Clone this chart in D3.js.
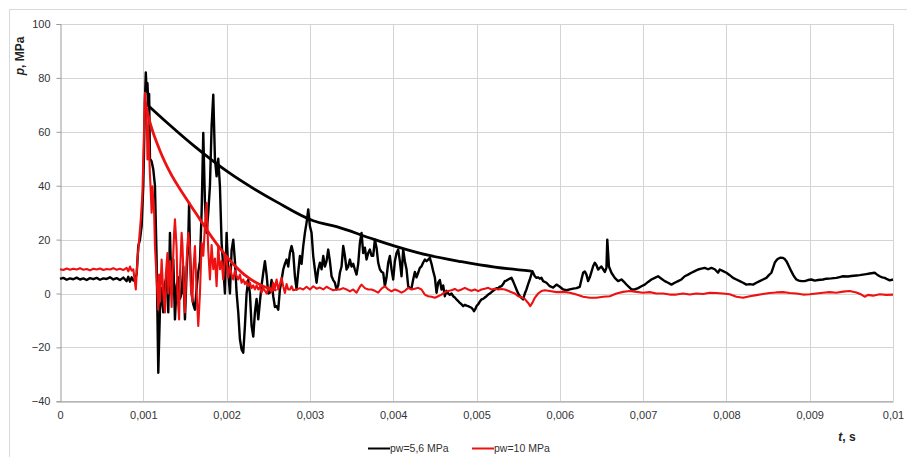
<!DOCTYPE html>
<html>
<head>
<meta charset="utf-8">
<script src="https://cdn.jsdelivr.net/npm/d3@7"></script>
<style>
  html, body { margin: 0; padding: 0; background: #ffffff; }
  svg { display: block; font-family: "Liberation Sans", Arial, sans-serif; }
</style>
</head>
<body>
<svg id="chart" width="907" height="457"></svg>
<script>
// Pressure records p(t); time in milliseconds, pressure in MPa
const seriesNames = ["pw=5,6 MPa", "pw=10 MPa"];
const seriesColors = ["#000000", "#ee1111"];

const blackSignal = [
  [0.00,5.4],[0.04,5.8],[0.08,5.1],[0.12,5.6],[0.16,5.3],[0.20,5.9],[0.24,5.2],[0.28,5.6],[0.32,5.0],[0.36,5.7],
  [0.40,5.3],[0.44,5.8],[0.48,5.1],[0.52,5.6],[0.56,5.4],[0.60,6.0],[0.64,5.2],[0.68,5.7],[0.72,5.0],[0.76,5.9],
  [0.80,4.6],[0.82,6.2],[0.84,4.4],[0.86,6.0],[0.88,4.8],[0.90,5.5],[0.92,7.0],[0.94,17.6],[0.96,20],[0.98,25],
  [1.00,40],[1.01,55],[1.02,72],[1.03,82],[1.04,75],[1.05,78],[1.06,70],[1.07,74],[1.08,50],[1.10,49],
  [1.12,46],[1.14,40],[1.16,12.6],[1.18,-29.4],[1.20,-6],[1.22,2],[1.24,-7],[1.26,4],[1.28,6.4],[1.30,-7],
  [1.32,22.5],[1.34,0],[1.36,12.6],[1.38,-9.6],[1.40,3],[1.42,6],[1.44,-2],[1.46,0],[1.48,10],[1.50,-9.6],
  [1.52,8],[1.54,20],[1.55,33.6],[1.56,16],[1.58,0],[1.60,-4],[1.62,-6],[1.64,2],[1.66,8],[1.68,12],
  [1.70,30],[1.72,59.6],[1.74,34],[1.76,22.5],[1.78,30],[1.80,40],[1.82,62],[1.84,73.8],[1.86,50],[1.88,43.5],
  [1.90,50],[1.92,39.8],[1.94,18.8],[1.96,10],[1.98,0],[2.00,22.5],[2.02,8],[2.04,0],[2.06,16],[2.08,20],
  [2.10,12],[2.12,0.3],[2.14,-7],[2.16,-17],[2.18,-20.8],[2.20,-22],[2.22,-12],[2.24,0],[2.26,5],[2.28,0],
  [2.30,-12],[2.32,-16],[2.34,-7],[2.36,-2],[2.38,-9.6],[2.40,-3],[2.42,3],[2.44,7.7],[2.46,12],[2.48,7],
  [2.50,0],[2.52,0.3],[2.54,5],[2.56,-1],[2.58,-5],[2.60,-4.7],[2.62,-6],[2.64,1.5],[2.66,5],[2.68,8.9],
  [2.70,11],[2.72,12.6],[2.74,10],[2.76,15.1],[2.78,17.6],[2.80,15],[2.82,6.4],[2.84,1.5],[2.86,8],[2.88,13.9],
  [2.90,11],[2.92,17.6],[2.94,22.5],[2.96,26.3],[2.98,31.2],[3.00,25],[3.02,22.5],[3.04,13.9],[3.06,8.9],[3.08,4],
  [3.10,8.9],[3.12,11.4],[3.14,9],[3.16,13.9],[3.18,10],[3.20,12],[3.22,16.3],[3.24,12],[3.26,6.4],[3.28,5],
  [3.30,4],[3.32,1.5],[3.34,3],[3.36,7.7],[3.38,10],[3.40,17.6],[3.42,14],[3.44,8.9],[3.46,10],[3.48,12.6],
  [3.50,10],[3.52,11],[3.54,8.9],[3.56,7],[3.58,11],[3.60,18.8],[3.62,22.5],[3.64,15],[3.66,17],[3.68,12.6],
  [3.70,15],[3.72,16.3],[3.74,14],[3.76,14],[3.78,20],[3.80,17],[3.82,11.4],[3.84,9],[3.86,8],[3.88,7.7],
  [3.90,2.7],[3.92,6],[3.94,11.4],[3.96,13.9],[3.98,9],[4.00,5.2],[4.02,12],[4.04,15],[4.06,16.3],[4.08,12],
  [4.10,6.4],[4.12,16.3],[4.14,12],[4.16,9],[4.18,2.7],[4.20,2],[4.22,2],[4.24,5.2],[4.26,8],[4.28,6],
  [4.30,7.7],[4.32,9.5],[4.34,10.1],[4.36,11.5],[4.38,12.6],[4.40,12],[4.42,12.6],[4.44,13.2],[4.46,11],[4.48,8.3],
  [4.50,6],[4.52,0.3],[4.54,4],[4.56,5],[4.58,1.5],[4.60,3],[4.62,-1],[4.64,1],[4.66,0],[4.68,-0.5],
  [4.70,0],[4.72,-1],[4.74,-1.5],[4.76,-2.2],[4.78,-2.8],[4.80,-3.5],[4.82,-4],[4.84,-4.7],[4.86,-4.2],[4.88,-4.5],
  [4.90,-4.7],[4.92,-5],[4.94,-5.3],[4.96,-6],[4.97,-6.6],[4.99,-5.5],[5.00,-4.7],[5.02,-4],[5.04,-3],[5.06,-2.2],
  [5.08,-2],[5.10,-1.5],[5.12,-1],[5.14,-0.4],[5.16,0],[5.18,0.5],[5.20,1],[5.22,1.5],[5.24,2],[5.26,2],
  [5.28,2.5],[5.30,2.7],[5.32,3.5],[5.34,4.6],[5.36,4.8],[5.38,5.2],[5.40,5.5],[5.42,5.8],[5.44,4.5],[5.46,3],
  [5.48,1.5],[5.50,0],[5.52,-1],[5.54,-1.6],[5.56,-2.2],[5.58,0],[5.60,1.5],[5.62,3.5],[5.64,5.2],[5.67,8.3],
  [5.70,6.4],[5.72,5.8],[5.74,6],[5.76,5.5],[5.78,5.8],[5.80,4.6],[5.84,4],[5.88,2.7],[5.92,2.2],[5.96,3.3],
  [6.00,2.5],[6.04,1.5],[6.08,1.2],[6.12,1.5],[6.16,1.8],[6.20,2],[6.24,2.5],[6.26,5.2],[6.28,7.7],[6.30,8.2],
  [6.32,7],[6.34,4.6],[6.36,6],[6.38,8],[6.40,10.1],[6.42,11.4],[6.44,10.5],[6.46,8.9],[6.48,9.5],[6.50,10],
  [6.52,9],[6.54,8],[6.56,9.5],[6.57,20],[6.59,10],[6.62,7.7],[6.66,5.8],[6.70,4.6],[6.74,5.2],[6.78,4],
  [6.82,2.7],[6.86,1.5],[6.90,1.5],[6.94,2],[6.98,2.7],[7.02,3.3],[7.06,4.3],[7.10,5.2],[7.14,5.8],[7.18,6.4],
  [7.22,5.5],[7.26,4.6],[7.30,4],[7.34,3.3],[7.38,4],[7.42,4.6],[7.46,5.2],[7.50,6.4],[7.54,7],[7.58,7.7],
  [7.62,8.3],[7.66,8.9],[7.70,9.2],[7.74,9.5],[7.78,9],[7.82,9.5],[7.86,9],[7.90,7.7],[7.92,8.9],[7.96,8.3],
  [8.00,7.7],[8.04,6.8],[8.08,5.8],[8.12,5.2],[8.16,4.6],[8.20,4],[8.24,3.3],[8.28,3.5],[8.32,3.3],[8.36,4],
  [8.40,4.6],[8.44,5.2],[8.48,5.8],[8.51,6.8],[8.54,7.7],[8.56,9.5],[8.58,11.4],[8.60,12.3],[8.62,12.9],[8.65,13.3],
  [8.68,13.2],[8.70,12.8],[8.72,12],[8.74,10.8],[8.76,9.5],[8.78,8.2],[8.80,7],[8.82,6],[8.84,5.2],[8.87,4.8],
  [8.90,4.6],[8.94,4.6],[8.98,5],[9.02,5.2],[9.06,4.8],[9.10,5],[9.16,5.2],[9.20,5.5],[9.26,5.6],[9.32,5.8],
  [9.36,6.1],[9.40,6.4],[9.46,6.3],[9.50,6.5],[9.56,6.7],[9.60,6.8],[9.64,7],[9.68,7.2],[9.72,7.4],[9.76,7.6],
  [9.78,7.7],[9.81,7],[9.84,6.4],[9.87,6],[9.90,5.8],[9.93,5.3],[9.96,4.9],[10.0,5.2]
];

const redSignal = [
  [0.00,9.0],[0.04,8.7],[0.08,9.3],[0.12,8.8],[0.16,9.2],[0.20,8.9],[0.24,9.4],[0.28,8.8],[0.32,9.1],[0.36,8.6],
  [0.40,9.2],[0.44,8.9],[0.48,9.3],[0.52,8.7],[0.56,9.1],[0.60,8.9],[0.64,9.4],[0.68,8.8],[0.72,9.2],[0.76,8.7],
  [0.80,9.5],[0.82,8.2],[0.84,10],[0.86,8.5],[0.88,9],[0.90,4],[0.91,1.5],[0.93,12.6],[0.95,20],[0.97,27.5],
  [0.99,37.4],[1.01,62],[1.02,74.5],[1.04,68],[1.05,49.7],[1.06,62],[1.08,44],[1.09,37.4],[1.10,30],[1.11,39.8],
  [1.13,30],[1.14,17.6],[1.16,5.2],[1.18,-6],[1.19,7],[1.20,-3],[1.22,12.6],[1.24,0],[1.26,-7],[1.27,7],
  [1.29,15],[1.30,0],[1.32,12],[1.34,-5],[1.35,7],[1.37,22.5],[1.38,27.5],[1.40,17],[1.41,0],[1.43,-9.6],
  [1.44,7],[1.46,22.5],[1.47,18],[1.49,0],[1.50,-7],[1.52,12],[1.54,22.5],[1.56,17],[1.57,3],[1.59,-3],
  [1.60,8],[1.62,17.6],[1.64,0.3],[1.66,-12],[1.68,0],[1.70,18.8],[1.72,14],[1.74,25],[1.76,33.6],[1.78,16],
  [1.80,5.2],[1.82,18],[1.84,9],[1.86,13],[1.88,2.7],[1.90,17.6],[1.92,9],[1.94,12],[1.96,5.2],[1.98,14],
  [2.00,12.6],[2.02,6],[2.04,10],[2.06,7],[2.08,5.2],[2.10,8.5],[2.12,6.5],[2.14,5.2],[2.16,7],[2.18,4],
  [2.20,5.2],[2.22,3.5],[2.24,4.5],[2.26,2.7],[2.28,4],[2.30,2],[2.32,3],[2.34,1.5],[2.36,3],[2.38,1.5],
  [2.40,2.5],[2.42,0.3],[2.44,2],[2.46,1],[2.48,0],[2.50,1.5],[2.52,1.5],[2.54,0.5],[2.56,4],[2.58,2],
  [2.60,5.2],[2.62,1.5],[2.64,3.5],[2.66,5.8],[2.68,2.7],[2.70,0.2],[2.72,3.5],[2.74,1.5],[2.76,1.5],[2.78,2.7],
  [2.80,1.2],[2.84,1.5],[2.88,2],[2.92,1.5],[2.96,2.5],[3.00,1.5],[3.04,2.7],[3.08,1.8],[3.12,2.2],[3.16,1.5],
  [3.20,2.5],[3.24,1.8],[3.28,1.2],[3.32,1.5],[3.36,1.5],[3.40,2],[3.44,1.5],[3.48,0.8],[3.52,1.5],[3.56,0.3],
  [3.60,2.5],[3.62,3.3],[3.66,2],[3.70,1.5],[3.74,1.5],[3.78,1],[3.82,0.3],[3.86,1.8],[3.90,2.7],[3.94,1.5],
  [3.98,0.8],[4.02,1.5],[4.06,1],[4.10,0.3],[4.14,1],[4.18,2.1],[4.22,1.5],[4.26,1.8],[4.30,2.1],[4.34,1.5],
  [4.38,-0.4],[4.42,-1],[4.46,-1.2],[4.50,-1.6],[4.54,-1],[4.58,-0.4],[4.62,0.5],[4.66,0.9],[4.70,1.2],[4.74,1.7],
  [4.78,1],[4.82,1.5],[4.86,2.1],[4.90,1.5],[4.94,1],[4.98,1.5],[5.02,0.9],[5.06,1.5],[5.10,1.8],[5.14,2.1],
  [5.18,1.5],[5.22,1.8],[5.26,1.5],[5.30,1.7],[5.34,1.5],[5.38,1],[5.42,0.5],[5.46,0],[5.50,-1],[5.54,-1.4],
  [5.58,-2],[5.60,-2.8],[5.62,-3.5],[5.645,-4.7],[5.67,-3.5],[5.70,-1.6],[5.74,0],[5.78,0.9],[5.82,1.2],[5.88,0.9],
  [5.96,0.5],[6.04,0.6],[6.12,0.3],[6.20,-0.4],[6.28,-1.2],[6.36,-1.6],[6.44,-1.6],[6.52,-1.2],[6.60,-1],[6.68,0],
  [6.76,0.6],[6.84,0.9],[6.92,0.6],[7.00,0.3],[7.08,0.5],[7.16,0],[7.24,0],[7.32,-0.4],[7.40,-0.4],[7.48,0],
  [7.56,-0.4],[7.64,0],[7.72,-0.2],[7.80,0.3],[7.88,0.2],[7.96,0],[8.04,-0.3],[8.12,-1.2],[8.20,-1.6],[8.28,-1],
  [8.36,-0.6],[8.44,-0.2],[8.52,0.2],[8.60,0.4],[8.68,0.5],[8.76,0.2],[8.84,0],[8.92,-0.4],[9.00,-0.3],[9.08,0],
  [9.16,0.3],[9.24,0.5],[9.32,0.3],[9.40,0.7],[9.48,0.9],[9.56,0.4],[9.62,-0.4],[9.66,-1.2],[9.70,-0.5],[9.76,-0.8],
  [9.84,-0.3],[9.92,-0.5],[10.0,-0.4]
];

// Peak-pressure decay envelopes
const blackEnvelope = [
  [1.05,70],[1.3,63],[1.62,54.5],[2.02,45],[2.6,34],[3.04,27],[3.32,24.8],[3.72,20.6],
  [4.02,17.6],[4.42,14.2],[4.82,11.8],[5.22,9.8],[5.66,8.3]
];
const redEnvelope = [
  [1.02,71],[1.08,63.5],[1.2,53],[1.32,45],[1.52,35],[1.68,27.5],[1.82,21],[2.02,13],
  [2.22,6.8],[2.42,3],[2.6,1.2]
];

const xTickValues = [0, 1, 2, 3, 4, 5, 6, 7, 8, 9, 10];
const xTickLabels = ["0", "0,001", "0,002", "0,003", "0,004", "0,005", "0,006", "0,007", "0,008", "0,009", "0,01"];
const yTickValues = [-40, -20, 0, 20, 40, 60, 80, 100];

const svg = d3.select("#chart");
const W = 907, H = 457;
const plot = { left: 60, right: 893, top: 24, bottom: 401.3 };

// Outer chart frame
svg.append("rect")
  .attr("x", 9.5).attr("y", 9.5)
  .attr("width", W + 20).attr("height", H + 20)
  .attr("fill", "none").attr("stroke", "#d9d9d9").attr("stroke-width", 1);

const x = d3.scaleLinear().domain([0, 10]).range([plot.left, plot.right]);
const y = d3.scaleLinear().domain([-40, 100]).range([plot.bottom, plot.top]);

// Gridlines
const grid = svg.append("g");
grid.selectAll("line.h").data(yTickValues).enter().append("line")
  .attr("x1", plot.left).attr("x2", plot.right)
  .attr("y1", d => Math.round(y(d)) + 0.5).attr("y2", d => Math.round(y(d)) + 0.5)
  .attr("stroke", "#d4d4d4").attr("stroke-width", 1);
grid.selectAll("line.v").data(xTickValues.slice(1)).enter().append("line")
  .attr("y1", plot.top).attr("y2", plot.bottom)
  .attr("x1", d => Math.round(x(d)) + 0.5).attr("x2", d => Math.round(x(d)) + 0.5)
  .attr("stroke", "#d4d4d4").attr("stroke-width", 1);

// Axes
const xAxis = d3.axisBottom(x)
  .tickValues(xTickValues)
  .tickFormat((d, i) => xTickLabels[i])
  .tickSize(0).tickPadding(10);
const gx = svg.append("g")
  .attr("transform", `translate(0,${Math.round(plot.bottom) + 0.5})`)
  .call(xAxis);
gx.select(".domain").attr("stroke", "#9a9a9a");
gx.selectAll("text").attr("fill", "#333").style("font-size", "11px");

const yAxis = d3.axisLeft(y)
  .tickValues(yTickValues)
  .tickSize(4).tickPadding(6);
const gy = svg.append("g")
  .attr("transform", `translate(${plot.left + 0.5},0)`)
  .call(yAxis);
gy.select(".domain").attr("stroke", "#9a9a9a");
gy.selectAll(".tick line").attr("stroke", "#9a9a9a");
gy.selectAll("text").attr("fill", "#333").style("font-size", "11px");

// Data lines
const line = d3.line().x(d => x(d[0])).y(d => y(d[1]));
const smooth = d3.line().x(d => x(d[0])).y(d => y(d[1])).curve(d3.curveMonotoneX);

const plotG = svg.append("g");
plotG.append("path").datum(blackSignal)
  .attr("d", line).attr("fill", "none")
  .attr("stroke", seriesColors[0]).attr("stroke-width", 2.4).attr("stroke-linejoin", "round");
plotG.append("path").datum(redSignal)
  .attr("d", line).attr("fill", "none")
  .attr("stroke", seriesColors[1]).attr("stroke-width", 2.1).attr("stroke-linejoin", "round");
plotG.append("path").datum(blackEnvelope)
  .attr("d", smooth).attr("fill", "none")
  .attr("stroke", seriesColors[0]).attr("stroke-width", 2.8);
plotG.append("path").datum(redEnvelope)
  .attr("d", smooth).attr("fill", "none")
  .attr("stroke", seriesColors[1]).attr("stroke-width", 2.8);

// Axis titles
const yTitle = svg.append("text")
  .attr("transform", "translate(24,56) rotate(-90)")
  .attr("text-anchor", "middle")
  .style("font-size", "12px").style("font-weight", "bold").attr("fill", "#222");
yTitle.append("tspan").style("font-style", "italic").text("p");
yTitle.append("tspan").text(", MPa");

const xTitle = svg.append("text")
  .attr("x", 847).attr("y", 441)
  .attr("text-anchor", "middle")
  .style("font-size", "12px").style("font-weight", "bold").attr("fill", "#222");
xTitle.append("tspan").style("font-style", "italic").text("t");
xTitle.append("tspan").text(", s");

// Legend
const legendItems = [
  { name: seriesNames[0], color: seriesColors[0], x: 368 },
  { name: seriesNames[1], color: seriesColors[1], x: 472 }
];
const legend = svg.append("g");
legendItems.forEach(it => {
  legend.append("line")
    .attr("x1", it.x).attr("x2", it.x + 22)
    .attr("y1", 448.5).attr("y2", 448.5)
    .attr("stroke", it.color).attr("stroke-width", 2);
  legend.append("text")
    .attr("x", it.x + 22).attr("y", 452)
    .style("font-size", "10.5px").attr("fill", "#333")
    .text(it.name);
});
</script>
</body>
</html>
